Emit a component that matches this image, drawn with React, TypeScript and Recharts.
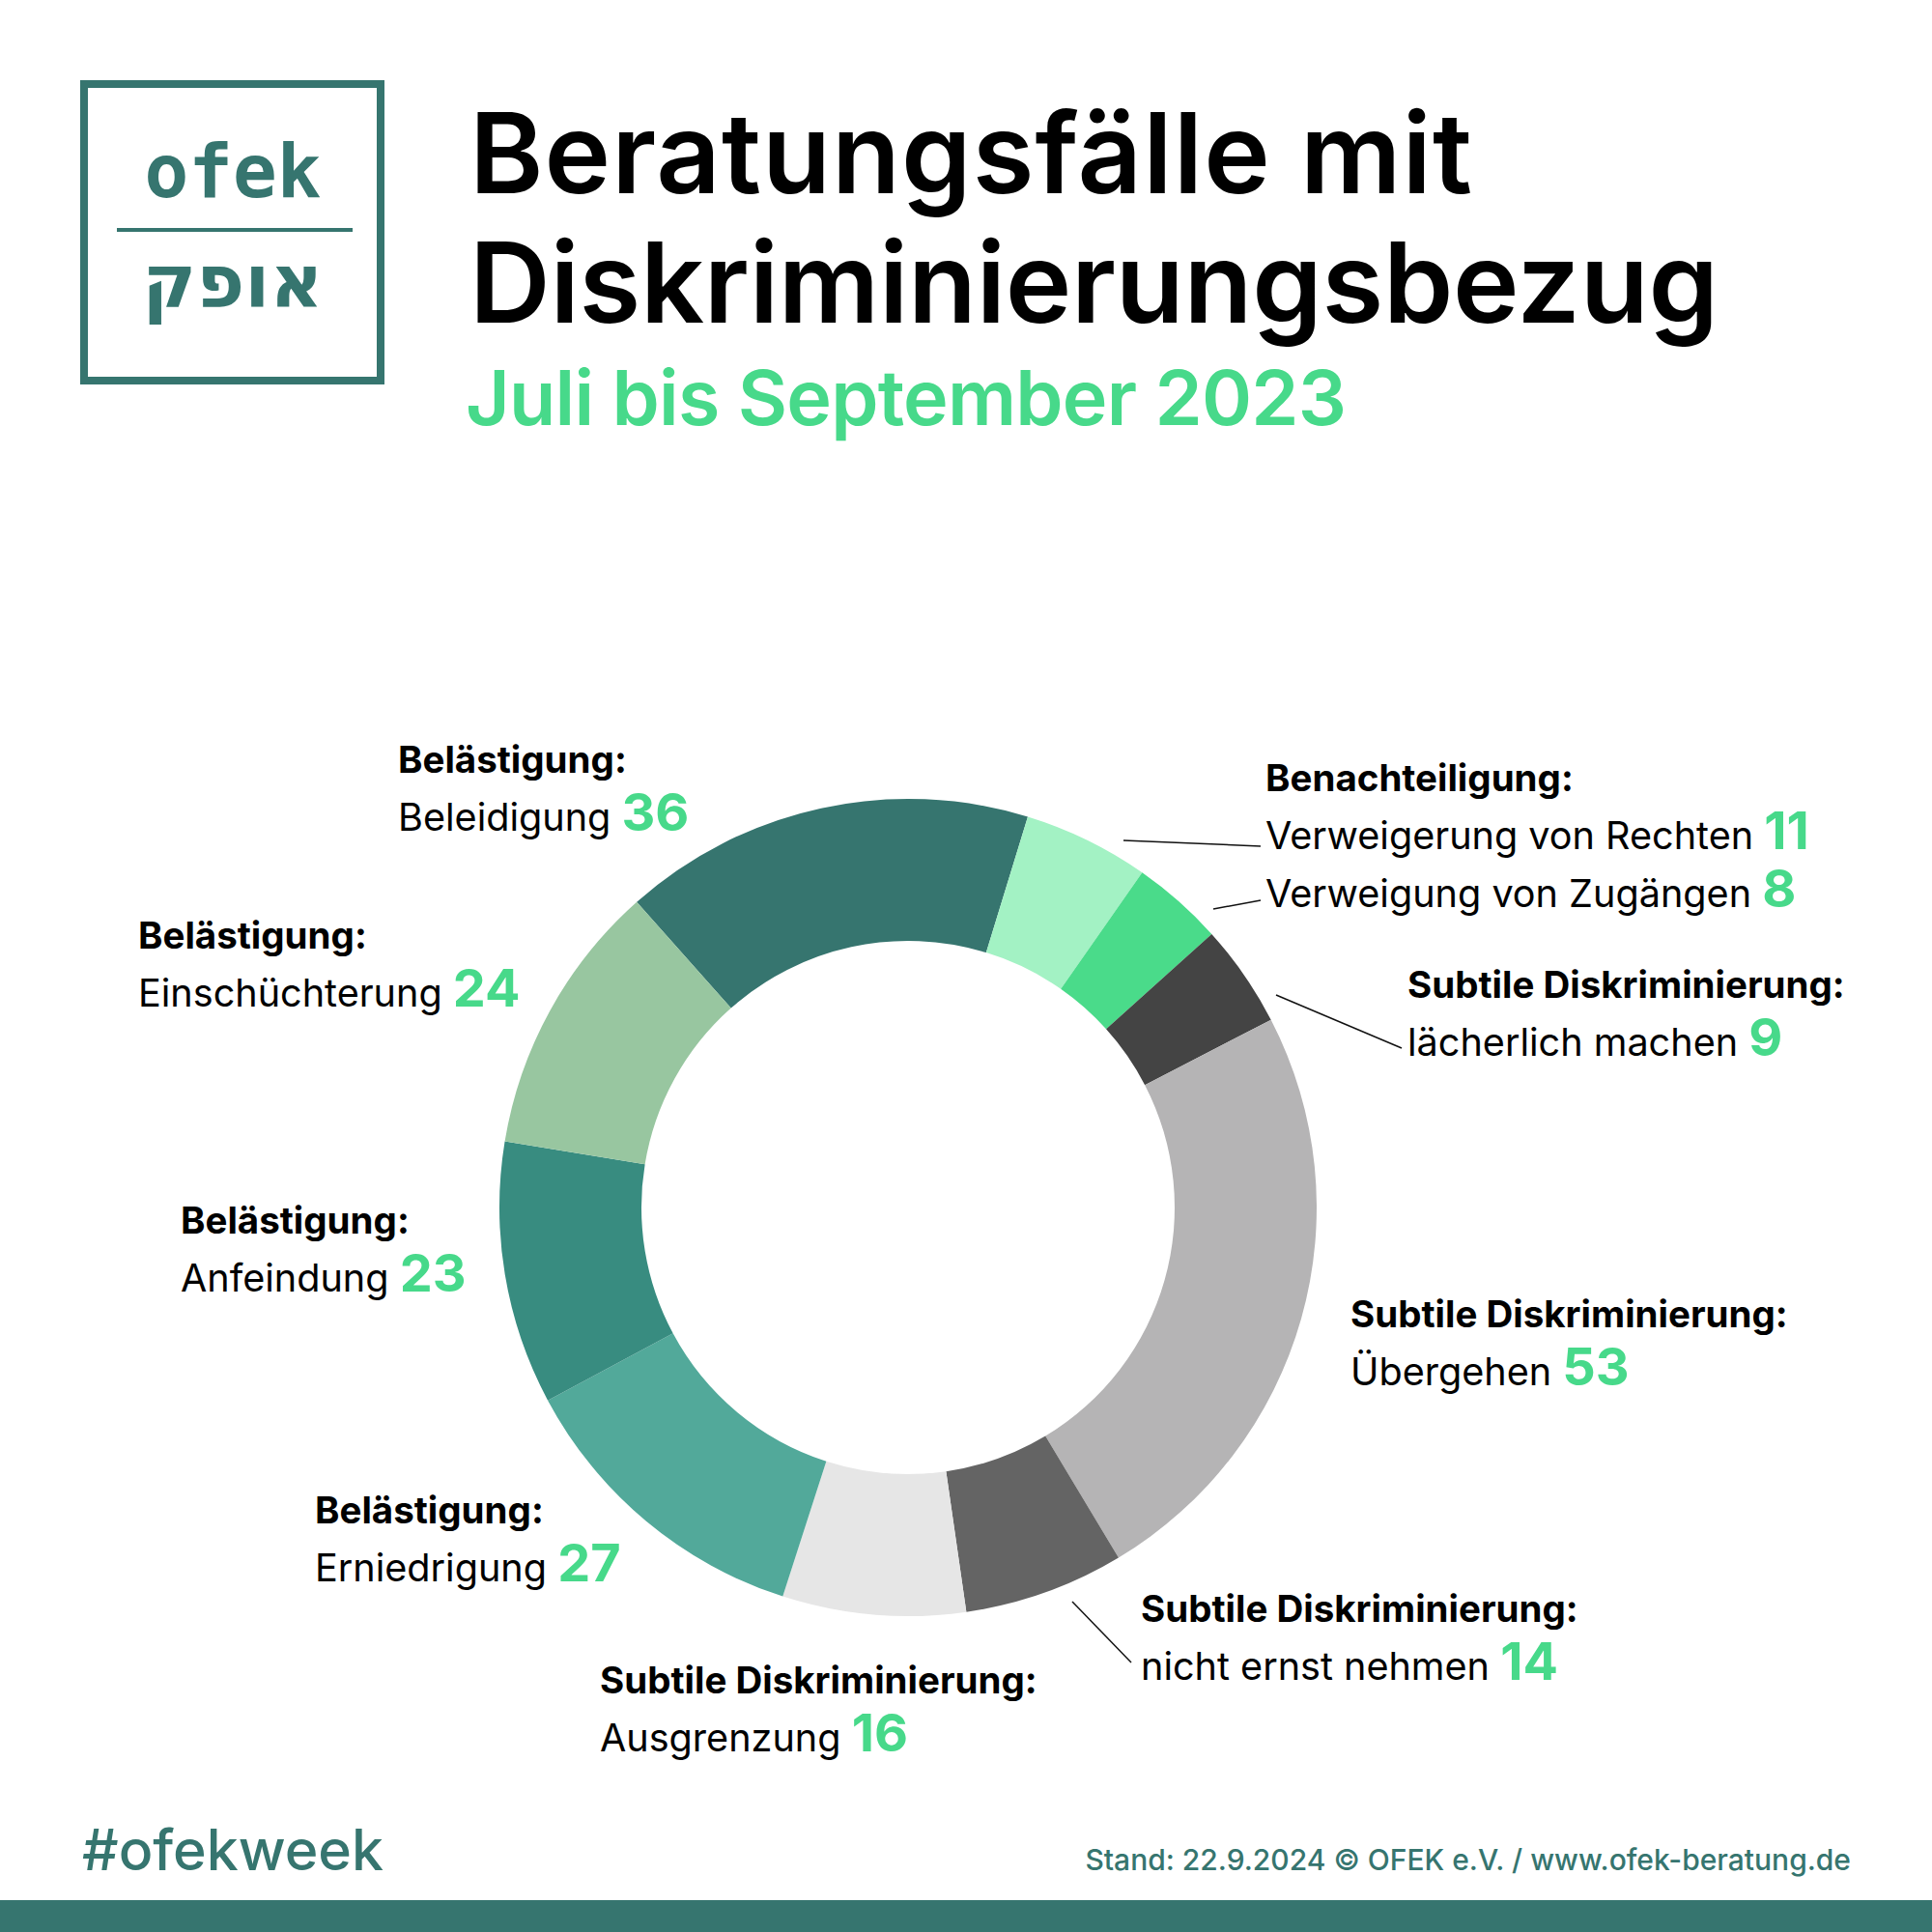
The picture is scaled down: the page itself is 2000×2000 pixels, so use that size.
import { PieChart, Pie, Cell } from "recharts";

const groups = [
  "Belästigung",
  "Benachteiligung",
  "Benachteiligung",
  "Subtile Diskriminierung",
  "Subtile Diskriminierung",
  "Subtile Diskriminierung",
  "Subtile Diskriminierung",
  "Belästigung",
  "Belästigung",
  "Belästigung",
];
const kinds = [
  "Beleidigung",
  "Verweigerung von Rechten",
  "Verweigung von Zugängen",
  "lächerlich machen",
  "Übergehen",
  "nicht ernst nehmen",
  "Ausgrenzung",
  "Erniedrigung",
  "Anfeindung",
  "Einschüchterung",
];
const counts = [36, 11, 8, 9, 53, 14, 16, 27, 23, 24];
const sliceColors = [
  "#36756f",
  "#a3f2c4",
  "#4adb8a",
  "#444444",
  "#b5b4b5",
  "#646464",
  "#e6e6e6",
  "#52a99a",
  "#388c80",
  "#98c6a0",
];

const TEAL = "#36756f";
const GREEN = "#47d98a";
const FONT = "Inter, 'Noto Sans', sans-serif";

// label block layout: x, baseline of header line; items sharing a header are stacked
const labelBlocks = [
  { items: [0], x: 412, y: 800 },
  { items: [1, 2], x: 1310, y: 819 },
  { items: [3], x: 1457, y: 1033 },
  { items: [4], x: 1398, y: 1374 },
  { items: [5], x: 1181, y: 1679 },
  { items: [6], x: 621, y: 1753 },
  { items: [7], x: 326, y: 1577 },
  { items: [8], x: 187, y: 1277 },
  { items: [9], x: 143, y: 982 },
];
const LINE_GAP = 60;

const leaders = [
  [1163, 870, 1305, 876],
  [1256, 941, 1305, 932],
  [1321, 1030, 1451, 1085],
  [1110, 1658, 1171, 1721],
];

const data = kinds.map((k, i) => ({ name: k, group: groups[i], value: counts[i] }));

export default function App() {
  return (
    <div style={{ position: "absolute", left: 0, top: 0, width: 2000, height: 2000, background: "#fff", overflow: "hidden" }}>
      {/* logo */}
      <div
        style={{
          position: "absolute",
          left: 83,
          top: 83,
          width: 315,
          height: 315,
          boxSizing: "border-box",
          border: `8px solid ${TEAL}`,
        }}
      />
      <div style={{ position: "absolute", left: 121, top: 236, width: 244, height: 4, background: TEAL }} />

      <PieChart width={2000} height={2000} style={{ position: "absolute", left: 0, top: 0 }}>
        <Pie
          data={data}
          dataKey="value"
          nameKey="name"
          cx={935}
          cy={1245}
          innerRadius={276}
          outerRadius={423}
          startAngle={131.6}
          endAngle={-228.4}
          stroke="none"
          isAnimationActive={false}
        >
          {data.map((d, i) => (
            <Cell key={d.name} fill={sliceColors[i]} />
          ))}
        </Pie>
      </PieChart>

      <svg width={2000} height={2000} style={{ position: "absolute", left: 0, top: 0 }}>
        <text x={241} y={204} textAnchor="middle" fill={TEAL} fontFamily="'DejaVu Sans Mono', monospace" fontWeight={700} fontSize={76}>
          ofek
        </text>
        <text x={241} y={318} textAnchor="middle" fill={TEAL} fontFamily="'DejaVu Sans', sans-serif" fontWeight={700} fontSize={76}>
          אופק
        </text>

        <text x={486} y={200} fontFamily={FONT} fontWeight={560} fontSize={116} textLength={1038} lengthAdjust="spacing" fill="#000">
          Beratungsfälle mit
        </text>
        <text x={486} y={334} fontFamily={FONT} fontWeight={560} fontSize={116} textLength={1293} lengthAdjust="spacing" fill="#000">
          Diskriminierungsbezug
        </text>
        <text x={482} y={440} fontFamily={FONT} fontWeight={560} fontSize={79} textLength={912} lengthAdjust="spacing" fill={GREEN}>
          Juli bis September 2023
        </text>

        {leaders.map((l, i) => (
          <line key={i} x1={l[0]} y1={l[1]} x2={l[2]} y2={l[3]} stroke="#111" strokeWidth={1.5} />
        ))}

        {labelBlocks.map((b, bi) => (
          <g key={bi} fontFamily={FONT}>
            <text x={b.x} y={b.y} fontWeight={700} fontSize={38.5} fill="#000">
              {groups[b.items[0]]}:
            </text>
            {b.items.map((idx, j) => (
              <text key={idx} x={b.x} y={b.y + LINE_GAP * (j + 1)} fontSize={39.6} fill="#000">
                <tspan>{kinds[idx]} </tspan>
                <tspan fontWeight={700} fontSize={54} fill={GREEN}>
                  {counts[idx]}
                </tspan>
              </text>
            ))}
          </g>
        ))}

        <text x={85} y={1936} fontFamily={FONT} fontWeight={500} fontSize={59} fill={TEAL}>
          #ofekweek
        </text>
        <text x={1916} y={1936} textAnchor="end" fontFamily={FONT} fontWeight={500} fontSize={30} fill={TEAL}>
          Stand: 22.9.2024 © OFEK e.V. / www.ofek-beratung.de
        </text>
      </svg>

      <div style={{ position: "absolute", left: 0, top: 1967, width: 2000, height: 33, background: TEAL }} />
    </div>
  );
}
